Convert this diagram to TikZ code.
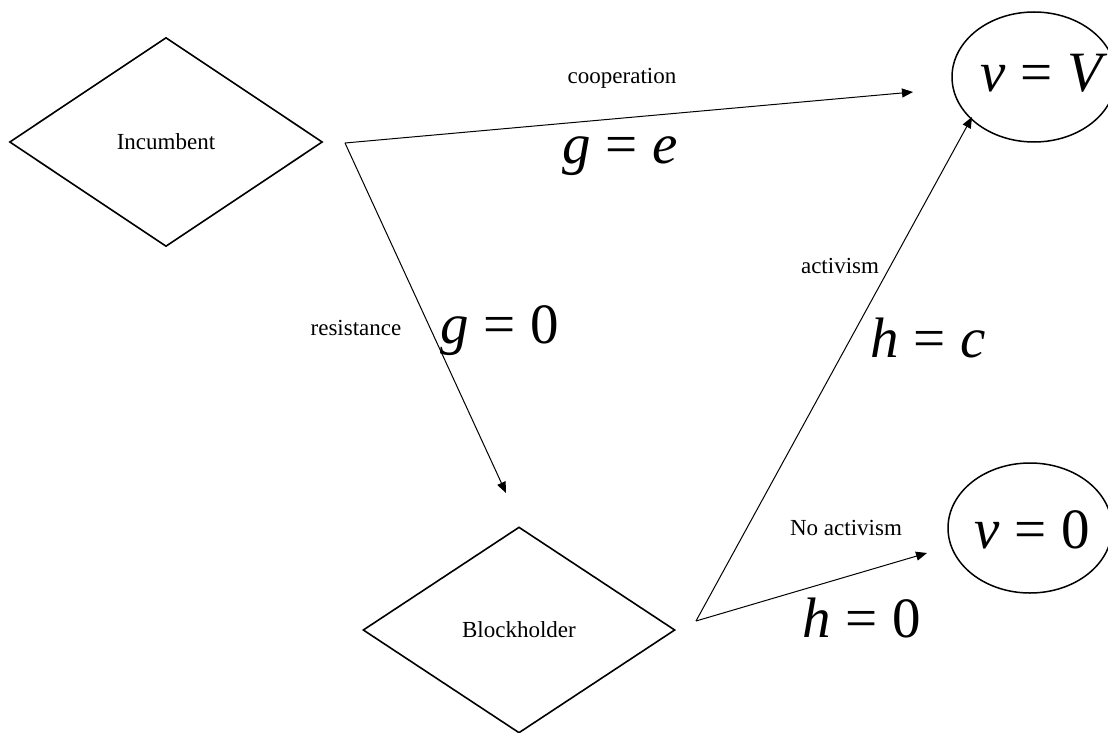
\documentclass[tikz,border=0pt]{standalone}
\usepackage{fontspec}
\setmainfont{Liberation Serif}
\usetikzlibrary{shapes.geometric,arrows.meta}
\newcommand{\eqlbl}[2]{{\itshape #1}\hspace{0.26em}=\hspace{0.26em}#2}
\begin{document}
\begin{tikzpicture}[x=1pt,y=-1pt,
  decision/.style={diamond, draw, line width=1.6pt, inner sep=0pt, font=\fontsize{23}{27}\selectfont},
  outcome/.style={ellipse, draw, line width=1.5pt, inner sep=0pt, minimum width=164pt, minimum height=130pt, font=\fontsize{57}{60}\selectfont},
  edge/.style={draw, line width=1pt, -{Triangle[length=11pt,width=9pt]}},
  small/.style={font=\fontsize{23}{27}\selectfont, inner sep=0pt, anchor=base},
  big/.style={font=\fontsize{57}{60}\selectfont, inner sep=0pt, anchor=base}]
\useasboundingbox (0,0) rectangle (1108,733);
% decision nodes
\node[decision, minimum width=313pt, minimum height=209pt] (inc) at (166,142) {Incumbent};
\node[decision, minimum width=312pt, minimum height=206pt] (blk) at (519,630) {Blockholder};
% outcome nodes
\node[outcome] (vV) at (1034,77) {};
\node[big] (vVt) at (1041,92) {\eqlbl{v}{\itshape V}};
\node[outcome] (v0) at (1030,528) {};
\node[big] (v0t) at (1032,548) {\eqlbl{v}{0}};
% connector end points
\coordinate (s1) at (345,143);
\coordinate (s2) at (696,621);
\coordinate (e1) at (913,92);
\coordinate (e2) at (506,493);
\coordinate (e3) at (972,117);
\coordinate (e4) at (927,553);
\draw[edge] (s1) -- (e1);
\draw[edge] (s1) -- (e2);
\draw[edge] (s2) -- (e3);
\draw[edge] (s2) -- (e4);
% labels
\node[small] (lcoop) at (622,84) {cooperation};
\node[big] (lge) at (620,163) {\eqlbl{g}{\itshape e}};
\node[small] (lres) at (356,335) {resistance};
\node[big] (lg0) at (500,343) {\eqlbl{g}{0}};
\node[small] (lact) at (840,273) {activism};
\node[big] (lhc) at (928,357) {\eqlbl{h}{\itshape c}};
\node[small] (lnoact) at (846,535) {No activism};
\node[big] (lh0) at (862,637) {\eqlbl{h}{0}};
\end{tikzpicture}
\end{document}
